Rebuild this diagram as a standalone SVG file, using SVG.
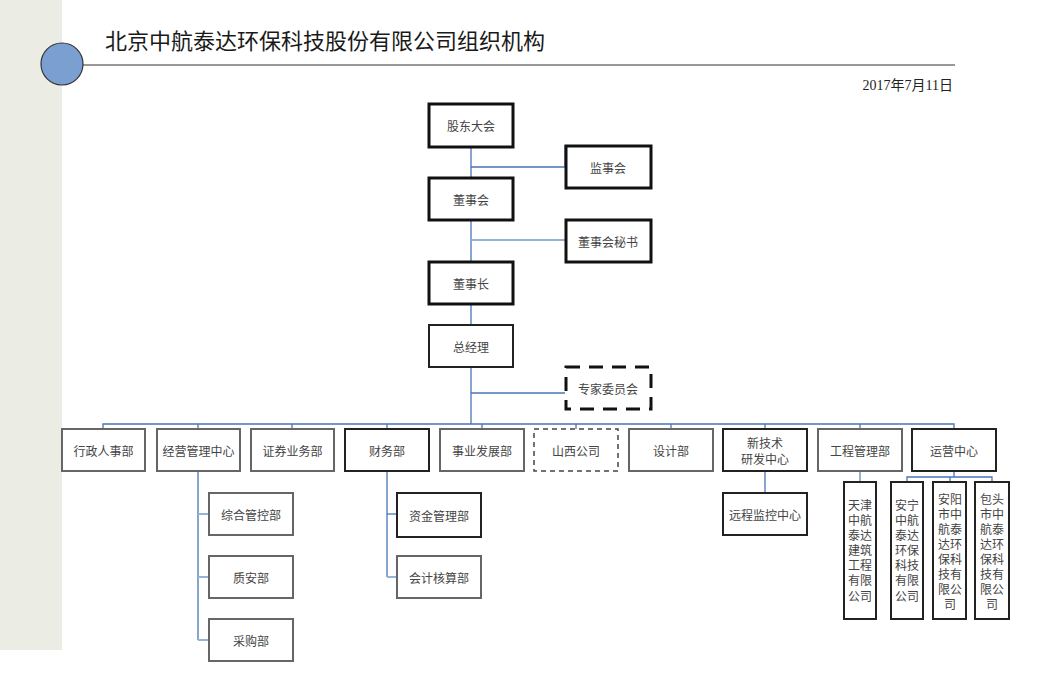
<svg xmlns="http://www.w3.org/2000/svg" width="1050" height="685" viewBox="0 0 1050 685">
<style>
text{font-family:"Noto Sans CJK SC","Noto Sans",sans-serif;fill:#444;font-size:12px;text-anchor:middle;dominant-baseline:central}
.thick{fill:#fff;stroke:#111;stroke-width:3}
.mid{fill:#fff;stroke:#222;stroke-width:2}
.grey{fill:#fff;stroke:#666;stroke-width:2}
.dash{fill:#fff;stroke:#111;stroke-width:3;stroke-dasharray:14 9}
.dashg{fill:#fff;stroke:#444;stroke-width:1.5;stroke-dasharray:5 4}
.c{fill:none;stroke:#4A74B8;stroke-width:1.3}
.cl{fill:none;stroke:#95B3D7;stroke-width:2}
</style>
<rect x="0" y="0" width="62" height="650" fill="#EBECE4"/>
<line x1="83" y1="65" x2="955" y2="65" stroke="#333" stroke-width="1.2"/>
<circle cx="62" cy="64" r="21" fill="#7B9FD0" stroke="#333" stroke-width="1.2"/>
<text x="105" y="39" style="text-anchor:start;font-size:22px;fill:#1a1a1a">北京中航泰达环保科技股份有限公司组织机构</text>
<text x="953" y="85" style="text-anchor:end;font-family:'Liberation Serif','Noto Sans CJK SC',serif;font-size:14px;fill:#222">2017年7月11日</text>
<g id="connectors">
<polyline class="c" points="471,147 471,424"/>
<polyline class="c" points="471,167 565,167 565,146 608,146"/>
<polyline class="cl" points="471,240 565,240"/>
<polyline class="c" points="471,393 565,393"/>
<polyline class="c" points="103,429 103,424 954,424 954,429"/>
<polyline class="c" points="198,424 198,429"/>
<polyline class="c" points="292,424 292,429"/>
<polyline class="c" points="387,424 387,429"/>
<polyline class="c" points="482,424 482,429"/>
<polyline class="c" points="576,424 576,429"/>
<polyline class="c" points="671,424 671,429"/>
<polyline class="c" points="765,424 765,429"/>
<polyline class="c" points="860,424 860,429"/>
<polyline class="c" points="198,471 198,640"/>
<polyline class="cl" points="198,514 209,514"/>
<polyline class="cl" points="198,577 209,577"/>
<polyline class="cl" points="198,640 209,640"/>
<polyline class="c" points="387,471 387,577"/>
<polyline class="c" points="387,514 397,514"/>
<polyline class="cl" points="387,577 397,577"/>
<polyline class="c" points="765,471 765,493"/>
<polyline class="cl" points="860,471 860,482"/>
<polyline class="c" points="954,471 954,477"/>
<polyline class="c" points="907,482 907,477 992,477 992,482"/>
<polyline class="c" points="950,477 950,482"/>
</g>
<g id="n1"><rect class="thick" x="429" y="104" width="84" height="43"/><text x="471" y="125.5">股东大会</text></g>
<g id="n2"><rect class="thick" x="566" y="146" width="85" height="42"/><text x="608" y="167">监事会</text></g>
<g id="n3"><rect class="thick" x="429" y="178" width="84" height="42"/><text x="471" y="199">董事会</text></g>
<g id="n4"><rect class="thick" x="566" y="220" width="85" height="42"/><text x="608" y="241">董事会秘书</text></g>
<g id="n5"><rect class="thick" x="429" y="262" width="84" height="42"/><text x="471" y="283">董事长</text></g>
<g id="n6"><rect class="mid" x="429" y="325" width="84" height="42"/><text x="471" y="346">总经理</text></g>
<g id="n7"><rect class="dash" x="566" y="367" width="85" height="42"/><text x="608" y="388">专家委员会</text></g>
<g id="r1"><rect class="grey" x="62" y="429" width="83" height="42"/><text x="103.5" y="450">行政人事部</text></g>
<g id="r2"><rect class="grey" x="157" y="429" width="83" height="42"/><text x="198.5" y="450">经营管理中心</text></g>
<g id="r3"><rect class="grey" x="251" y="429" width="83" height="42"/><text x="292.5" y="450">证券业务部</text></g>
<g id="r4"><rect class="mid" x="345" y="429" width="84" height="42"/><text x="387" y="450">财务部</text></g>
<g id="r5"><rect class="grey" x="440" y="429" width="84" height="42"/><text x="482" y="450">事业发展部</text></g>
<g id="r6"><rect class="dashg" x="534" y="429" width="84" height="42"/><text x="576" y="450">山西公司</text></g>
<g id="r7"><rect class="grey" x="629" y="429" width="84" height="42"/><text x="671" y="450">设计部</text></g>
<g id="r8"><rect class="mid" x="723" y="429" width="84" height="42"/><text x="765" y="442">新技术</text><text x="765" y="458">研发中心</text></g>
<g id="r9"><rect class="grey" x="818" y="429" width="84" height="42"/><text x="860" y="450">工程管理部</text></g>
<g id="r10"><rect class="mid" x="912" y="429" width="84" height="42"/><text x="954" y="450">运营中心</text></g>
<g id="s1"><rect class="grey" x="209" y="493" width="84" height="42"/><text x="251" y="514">综合管控部</text></g>
<g id="s2"><rect class="grey" x="209" y="556" width="84" height="42"/><text x="251" y="577">质安部</text></g>
<g id="s3"><rect class="grey" x="209" y="619" width="84" height="42"/><text x="251" y="640">采购部</text></g>
<g id="s4"><rect class="mid" x="397" y="493" width="84" height="44"/><text x="439" y="515">资金管理部</text></g>
<g id="s5"><rect class="grey" x="397" y="556" width="84" height="42"/><text x="439" y="577">会计核算部</text></g>
<g id="s6"><rect class="mid" x="723" y="493" width="84" height="42"/><text x="765" y="514">远程监控中心</text></g>
<g id="v1"><rect class="mid" x="844" y="482" width="32" height="137"/>
<text x="860" y="504">天津</text><text x="860" y="519">中航</text><text x="860" y="534">泰达</text><text x="860" y="549">建筑</text><text x="860" y="564">工程</text><text x="860" y="579">有限</text><text x="860" y="595">公司</text></g>
<g id="v2"><rect class="mid" x="891" y="482" width="32" height="137"/>
<text x="907" y="504">安宁</text><text x="907" y="519">中航</text><text x="907" y="534">泰达</text><text x="907" y="549">环保</text><text x="907" y="564">科技</text><text x="907" y="579">有限</text><text x="907" y="595">公司</text></g>
<g id="v3"><rect class="mid" x="933" y="482" width="33" height="137"/>
<text x="950" y="498">安阳</text><text x="950" y="513">市中</text><text x="950" y="528">航泰</text><text x="950" y="543">达环</text><text x="950" y="558">保科</text><text x="950" y="573">技有</text><text x="950" y="588">限公</text><text x="950" y="603">司</text></g>
<g id="v4"><rect class="mid" x="975" y="482" width="34" height="137"/>
<text x="992" y="498">包头</text><text x="992" y="513">市中</text><text x="992" y="528">航泰</text><text x="992" y="543">达环</text><text x="992" y="558">保科</text><text x="992" y="573">技有</text><text x="992" y="588">限公</text><text x="992" y="603">司</text></g>
</svg>
